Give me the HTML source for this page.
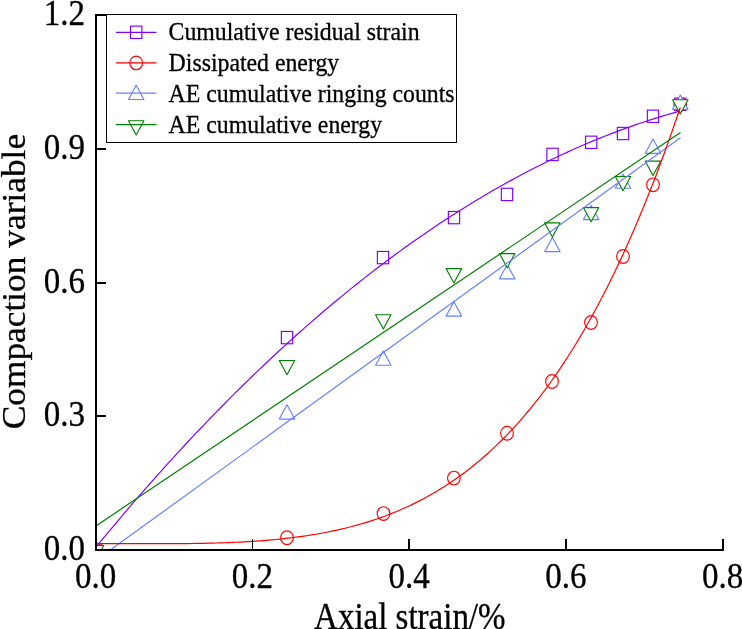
<!DOCTYPE html>
<html><head><meta charset="utf-8"><title>Compaction variable vs axial strain</title>
<style>html,body{margin:0;padding:0;background:#fff}svg{display:block}text{font-family:"Liberation Serif","Times New Roman",serif;fill:#000;stroke:#000;stroke-width:0.3px}</style></head>
<body><svg width="742" height="629" viewBox="0 0 742 629">
<rect width="742" height="629" fill="#fff"/>
<defs><clipPath id="pc"><rect x="96" y="0" width="640" height="550"/></clipPath></defs>
<g clip-path="url(#pc)">
<rect x="90.35" y="543.85" width="11.3" height="12.3" fill="#fff" stroke="#8000ff" stroke-width="1.15"/>
<rect x="281.35" y="331.45" width="11.3" height="12.3" fill="#fff" stroke="#8000ff" stroke-width="1.15"/>
<rect x="377.35" y="251.45" width="11.3" height="12.3" fill="#fff" stroke="#8000ff" stroke-width="1.15"/>
<rect x="448.35" y="211.45" width="11.3" height="12.3" fill="#fff" stroke="#8000ff" stroke-width="1.15"/>
<rect x="501.35" y="188.25" width="11.3" height="12.3" fill="#fff" stroke="#8000ff" stroke-width="1.15"/>
<rect x="546.85" y="148.25" width="11.3" height="12.3" fill="#fff" stroke="#8000ff" stroke-width="1.15"/>
<rect x="585.55" y="136.15" width="11.3" height="12.3" fill="#fff" stroke="#8000ff" stroke-width="1.15"/>
<rect x="617.35" y="127.35" width="11.3" height="12.3" fill="#fff" stroke="#8000ff" stroke-width="1.15"/>
<rect x="647.35" y="110.15" width="11.3" height="12.3" fill="#fff" stroke="#8000ff" stroke-width="1.15"/>
<rect x="674.65" y="98.15" width="11.3" height="12.3" fill="#fff" stroke="#8000ff" stroke-width="1.15"/>
<ellipse cx="96" cy="550" rx="6.35" ry="6.85" fill="#fff" stroke="#ff0000" stroke-width="1.15"/>
<ellipse cx="287" cy="537.7" rx="6.35" ry="6.85" fill="#fff" stroke="#ff0000" stroke-width="1.15"/>
<ellipse cx="383.5" cy="513.6" rx="6.35" ry="6.85" fill="#fff" stroke="#ff0000" stroke-width="1.15"/>
<ellipse cx="453.9" cy="478.1" rx="6.35" ry="6.85" fill="#fff" stroke="#ff0000" stroke-width="1.15"/>
<ellipse cx="507" cy="433.2" rx="6.35" ry="6.85" fill="#fff" stroke="#ff0000" stroke-width="1.15"/>
<ellipse cx="552" cy="381.5" rx="6.35" ry="6.85" fill="#fff" stroke="#ff0000" stroke-width="1.15"/>
<ellipse cx="591" cy="322.5" rx="6.35" ry="6.85" fill="#fff" stroke="#ff0000" stroke-width="1.15"/>
<ellipse cx="623" cy="256.5" rx="6.35" ry="6.85" fill="#fff" stroke="#ff0000" stroke-width="1.15"/>
<ellipse cx="653" cy="184.8" rx="6.35" ry="6.85" fill="#fff" stroke="#ff0000" stroke-width="1.15"/>
<ellipse cx="680.3" cy="104.3" rx="6.35" ry="6.85" fill="#fff" stroke="#ff0000" stroke-width="1.15"/>
<path d="M96 540.8L88.29 555.05L103.71 555.05Z" fill="#fff" stroke="#6680ff" stroke-width="1.15" stroke-linejoin="round"/>
<path d="M287 404.8L279.29 419.05L294.71 419.05Z" fill="#fff" stroke="#6680ff" stroke-width="1.15" stroke-linejoin="round"/>
<path d="M383.3 351L375.59 365.25L391.01 365.25Z" fill="#fff" stroke="#6680ff" stroke-width="1.15" stroke-linejoin="round"/>
<path d="M453.9 301.8L446.19 316.05L461.61 316.05Z" fill="#fff" stroke="#6680ff" stroke-width="1.15" stroke-linejoin="round"/>
<path d="M507.2 264.6L499.49 278.85L514.91 278.85Z" fill="#fff" stroke="#6680ff" stroke-width="1.15" stroke-linejoin="round"/>
<path d="M552.4 237.4L544.69 251.65L560.11 251.65Z" fill="#fff" stroke="#6680ff" stroke-width="1.15" stroke-linejoin="round"/>
<path d="M591.1 205.3L583.39 219.55L598.81 219.55Z" fill="#fff" stroke="#6680ff" stroke-width="1.15" stroke-linejoin="round"/>
<path d="M623 174L615.29 188.25L630.71 188.25Z" fill="#fff" stroke="#6680ff" stroke-width="1.15" stroke-linejoin="round"/>
<path d="M653 139.1L645.29 153.35L660.71 153.35Z" fill="#fff" stroke="#6680ff" stroke-width="1.15" stroke-linejoin="round"/>
<path d="M680.3 95.1L672.59 109.35L688.01 109.35Z" fill="#fff" stroke="#6680ff" stroke-width="1.15" stroke-linejoin="round"/>
<path d="M96 559.7L88.29 545.45L103.71 545.45Z" fill="#fff" stroke="#008000" stroke-width="1.15" stroke-linejoin="round"/>
<path d="M287 374.7L279.29 360.45L294.71 360.45Z" fill="#fff" stroke="#008000" stroke-width="1.15" stroke-linejoin="round"/>
<path d="M383.3 329L375.59 314.75L391.01 314.75Z" fill="#fff" stroke="#008000" stroke-width="1.15" stroke-linejoin="round"/>
<path d="M453.9 282.9L446.19 268.65L461.61 268.65Z" fill="#fff" stroke="#008000" stroke-width="1.15" stroke-linejoin="round"/>
<path d="M507.2 267.8L499.49 253.55L514.91 253.55Z" fill="#fff" stroke="#008000" stroke-width="1.15" stroke-linejoin="round"/>
<path d="M552.4 237.1L544.69 222.85L560.11 222.85Z" fill="#fff" stroke="#008000" stroke-width="1.15" stroke-linejoin="round"/>
<path d="M591.1 221.8L583.39 207.55L598.81 207.55Z" fill="#fff" stroke="#008000" stroke-width="1.15" stroke-linejoin="round"/>
<path d="M623 190.7L615.29 176.45L630.71 176.45Z" fill="#fff" stroke="#008000" stroke-width="1.15" stroke-linejoin="round"/>
<path d="M653 175.4L645.29 161.15L660.71 161.15Z" fill="#fff" stroke="#008000" stroke-width="1.15" stroke-linejoin="round"/>
<path d="M680.3 114L672.59 99.75L688.01 99.75Z" fill="#fff" stroke="#008000" stroke-width="1.15" stroke-linejoin="round"/>
<polyline points="96,547.1 100,542.23 104,537.39 108,532.57 112,527.78 116,523.02 120,518.28 124,513.57 128,508.89 132,504.23 136,499.59 140,494.99 144,490.4 148,485.85 152,481.32 156,476.81 160,472.34 164,467.88 168,463.46 172,459.06 176,454.68 180,450.34 184,446.01 188,441.72 192,437.45 196,433.2 200,428.98 204,424.79 208,420.63 212,416.48 216,412.37 220,408.28 224,404.22 228,400.18 232,396.17 236,392.19 240,388.23 244,384.29 248,380.39 252,376.5 256,372.65 260,368.82 264,365.02 268,361.24 272,357.49 276,353.76 280,350.06 284,346.39 288,342.74 292,339.12 296,335.52 300,331.95 304,328.41 308,324.89 312,321.4 316,317.93 320,314.49 324,311.08 328,307.69 332,304.32 336,300.99 340,297.68 344,294.39 348,291.13 352,287.9 356,284.69 360,281.51 364,278.36 368,275.23 372,272.13 376,269.05 380,266 384,262.97 388,259.97 392,257 396,254.05 400,251.13 404,248.23 408,245.36 412,242.52 416,239.7 420,236.91 424,234.15 428,231.41 432,228.69 436,226 440,223.34 444,220.7 448,218.09 452,215.51 456,212.95 460,210.42 464,207.91 468,205.43 472,202.98 476,200.55 480,198.15 484,195.77 488,193.42 492,191.09 496,188.79 500,186.52 504,184.27 508,182.05 512,179.86 516,177.69 520,175.54 524,173.43 528,171.33 532,169.27 536,167.23 540,165.22 544,163.23 548,161.27 552,159.33 556,157.42 560,155.54 564,153.68 568,151.85 572,150.04 576,148.26 580,146.5 584,144.78 588,143.07 592,141.4 596,139.75 600,138.12 604,136.52 608,134.95 612,133.4 616,131.88 620,130.39 624,128.92 628,127.48 632,126.06 636,124.67 640,123.3 644,121.96 648,120.65 652,119.36 656,118.1 660,116.86 664,115.65 668,114.47 672,113.31 676,112.18 680,111.07 680.3,110.99" fill="none" stroke="#8000ff" stroke-width="1.2"/>
<polyline points="96,560.27 680.5,137.8" fill="none" stroke="#6680ff" stroke-width="1.2"/>
<polyline points="96,543.56 100,543.57 104,543.58 108,543.59 112,543.6 116,543.61 120,543.62 124,543.64 128,543.65 132,543.66 136,543.67 140,543.68 144,543.69 148,543.7 152,543.7 156,543.7 160,543.7 164,543.69 168,543.68 172,543.66 176,543.64 180,543.61 184,543.58 188,543.54 192,543.49 196,543.43 200,543.36 204,543.28 208,543.2 212,543.1 216,542.99 220,542.87 224,542.74 228,542.59 232,542.43 236,542.25 240,542.06 244,541.85 248,541.62 252,541.38 256,541.12 260,540.83 264,540.53 268,540.2 272,539.85 276,539.48 280,539.08 284,538.66 288,538.21 292,537.73 296,537.22 300,536.68 304,536.12 308,535.52 312,534.89 316,534.22 320,533.52 324,532.78 328,532 332,531.19 336,530.33 340,529.44 344,528.5 348,527.51 352,526.49 356,525.41 360,524.28 364,523.11 368,521.89 372,520.61 376,519.28 380,517.89 384,516.44 388,514.94 392,513.38 396,511.75 400,510.07 404,508.31 408,506.49 412,504.6 416,502.64 420,500.61 424,498.51 428,496.33 432,494.07 436,491.74 440,489.32 444,486.82 448,484.23 452,481.56 456,478.8 460,475.95 464,473.01 468,469.97 472,466.83 476,463.59 480,460.26 484,456.82 488,453.27 492,449.62 496,445.86 500,441.98 504,437.99 508,433.88 512,429.65 516,425.3 520,420.83 524,416.23 528,411.5 532,406.64 536,401.64 540,396.51 544,391.24 548,385.83 552,380.27 556,374.56 560,368.71 564,362.7 568,356.53 572,350.21 576,343.72 580,337.07 584,330.25 588,323.27 592,316.11 596,308.77 600,301.25 604,293.55 608,285.67 612,277.6 616,269.33 620,260.87 624,252.21 628,243.35 632,234.29 636,225.02 640,215.53 644,205.83 648,195.92 652,185.77 656,175.41 660,164.81 664,153.99 668,142.92 672,131.62 676,120.07 680,108.28 680.3,107.38" fill="none" stroke="#ff0000" stroke-width="1.2"/>
<polyline points="96,525.9 680.5,132.5" fill="none" stroke="#008000" stroke-width="1.2"/>
</g>
<rect x="95" y="14" width="2" height="537" fill="#000"/>
<rect x="95" y="549" width="629" height="2" fill="#000"/>
<rect x="97" y="14" width="9" height="2" fill="#000"/>
<rect x="97" y="148" width="9" height="2" fill="#000"/>
<rect x="97" y="282" width="9" height="2" fill="#000"/>
<rect x="97" y="415" width="9" height="2" fill="#000"/>
<rect x="252" y="539" width="1" height="10" fill="#000"/>
<rect x="408" y="539" width="2" height="10" fill="#000"/>
<rect x="565" y="539" width="2" height="10" fill="#000"/>
<rect x="722" y="539" width="2" height="10" fill="#000"/>
<text transform="translate(85.0,25.1) scale(1,1.09)" text-anchor="end" font-size="33">1.2</text>
<text transform="translate(85.0,158.85) scale(1,1.09)" text-anchor="end" font-size="33">0.9</text>
<text transform="translate(85.0,292.6) scale(1,1.09)" text-anchor="end" font-size="33">0.6</text>
<text transform="translate(85.0,426.35) scale(1,1.09)" text-anchor="end" font-size="33">0.3</text>
<text transform="translate(85.0,560.1) scale(1,1.09)" text-anchor="end" font-size="33">0.0</text>
<text transform="translate(95.7,587.8) scale(1,1.09)" text-anchor="middle" font-size="33">0.0</text>
<text transform="translate(252.45,587.8) scale(1,1.09)" text-anchor="middle" font-size="33">0.2</text>
<text transform="translate(409.2,587.8) scale(1,1.09)" text-anchor="middle" font-size="33">0.4</text>
<text transform="translate(565.95,587.8) scale(1,1.09)" text-anchor="middle" font-size="33">0.6</text>
<text transform="translate(722.7,587.8) scale(1,1.09)" text-anchor="middle" font-size="33">0.8</text>
<text transform="translate(409.8,628.9) scale(1,1.12)" text-anchor="middle" font-size="33">Axial strain/%</text>
<text transform="translate(25.1,281.6) rotate(-90) scale(1.078,1)" text-anchor="middle" font-size="32.8">Compaction variable</text>
<rect x="106.5" y="14.5" width="350" height="128" fill="#fff" stroke="#000" stroke-width="1"/>
<rect x="130.55" y="26.15" width="11.3" height="12.3" fill="#fff" stroke="#8000ff" stroke-width="1.15"/>
<line x1="116" y1="32.3" x2="156.5" y2="32.3" stroke="#8000ff" stroke-width="1.2"/>
<text transform="translate(168.6,40) scale(1,1.07)" font-size="23.8" stroke-width="0.15">Cumulative residual strain</text>
<ellipse cx="136.2" cy="62.9" rx="6.35" ry="6.85" fill="#fff" stroke="#ff0000" stroke-width="1.15"/>
<line x1="116" y1="62.9" x2="156.5" y2="62.9" stroke="#ff0000" stroke-width="1.2"/>
<text transform="translate(168.6,71) scale(1,1.07)" font-size="23.8" stroke-width="0.15">Dissipated energy</text>
<path d="M136.2 85.2L128.49 99.45L143.91 99.45Z" fill="#fff" stroke="#6680ff" stroke-width="1.15" stroke-linejoin="round"/>
<line x1="116" y1="93.2" x2="156.5" y2="93.2" stroke="#6680ff" stroke-width="1.2"/>
<text transform="translate(168.6,101.7) scale(1,1.07)" font-size="23.8" stroke-width="0.15">AE cumulative ringing counts</text>
<path d="M136.2 135L128.49 120.75L143.91 120.75Z" fill="#fff" stroke="#008000" stroke-width="1.15" stroke-linejoin="round"/>
<line x1="116" y1="124.7" x2="156.5" y2="124.7" stroke="#008000" stroke-width="1.2"/>
<text transform="translate(168.6,133) scale(1,1.07)" font-size="23.8" stroke-width="0.15">AE cumulative energy</text>
</svg></body></html>
